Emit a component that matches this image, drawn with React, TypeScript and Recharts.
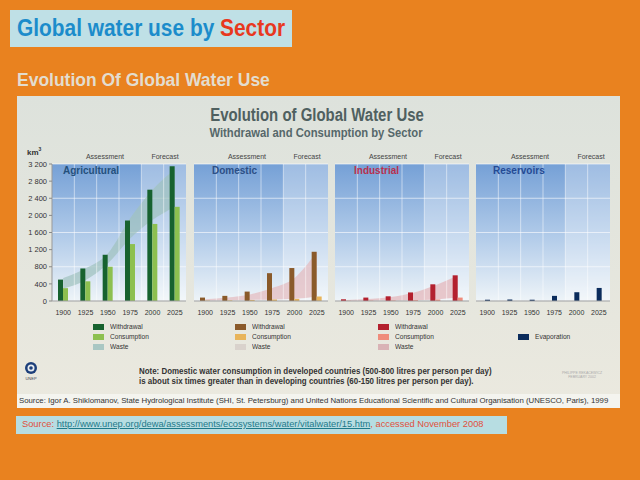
import {
  ComposedChart,
  Bar,
  Area,
  XAxis,
  YAxis,
  CartesianGrid,
  ReferenceArea,
  ReferenceLine,
} from "recharts";

// values, km3 per year
const years = ["1900", "1925", "1950", "1975", "2000", "2025"];
const yTicks = [0, 400, 800, 1200, 1600, 2000, 2400, 2800, 3200];

const agriWithdrawal = [500, 760, 1080, 1880, 2600, 3150];
const agriConsumption = [300, 460, 800, 1330, 1800, 2200];
const agriWasteTop = [540, 760, 1110, 1930, 2600, 3070];
const agriWasteBottom = [290, 485, 875, 1460, 1890, 2200];

const domWithdrawal = [80, 120, 220, 650, 770, 1150];
const domConsumption = [10, 15, 25, 35, 50, 105];
const domWasteTop = [40, 80, 150, 305, 540, 1150];

const indWithdrawal = [40, 80, 110, 200, 390, 600];
const indConsumption = [5, 8, 12, 20, 35, 80];
const indWasteTop = [25, 45, 95, 195, 370, 595];

const resEvaporation = [30, 35, 30, 120, 205, 305];

const agriData = years.map((year, i) => ({
  year,
  w: agriWithdrawal[i],
  c: agriConsumption[i],
  band: [agriWasteBottom[i], agriWasteTop[i]],
}));
const domData = years.map((year, i) => ({
  year,
  w: domWithdrawal[i],
  c: domConsumption[i],
  band: [domConsumption[i], domWasteTop[i]],
}));
const indData = years.map((year, i) => ({
  year,
  w: indWithdrawal[i],
  c: indConsumption[i],
  band: [indConsumption[i], indWasteTop[i]],
}));
const resData = years.map((year, i) => ({ year, w: resEvaporation[i] }));

const sans = "'Liberation Sans', Arial, sans-serif";

// "3 200" style, with a no-break space so the tick doesn't wrap
const fmtK = (n: number) =>
  n >= 1000 ? `${Math.floor(n / 1000)}\u00a0${String(n % 1000).padStart(3, "0")}` : String(n);

interface PanelProps {
  id: string;
  data: any[];
  left: number;
  width: number;
  showY?: boolean;
  wColor: string;
  cColor?: string;
  bandColor?: string;
}

function Panel(props: PanelProps) {
  const { id, data, left, width, showY, wColor, cColor, bandColor } = props;
  return (
    <div style={{ position: "absolute", left, top: 150 }}>
      <ComposedChart
        width={width}
        height={170}
        data={data}
        margin={{ top: 14, right: 0, bottom: 5, left: 0 }}
        barGap={0}
        barSize={5}
      >
        <defs>
          <linearGradient id={id} x1="0" y1="0" x2="0" y2="1">
            <stop offset="0" stopColor="#75a0d6" />
            <stop offset="0.55" stopColor="#b4cdea" />
            <stop offset="1" stopColor="#eef4f8" />
          </linearGradient>
        </defs>
        <CartesianGrid
          vertical={false}
          fill={`url(#${id})`}
          fillOpacity={1}
          stroke="#ffffff"
          strokeOpacity={0.6}
        />
        <ReferenceArea
          x1="2000"
          x2="2025"
          y1={0}
          y2={3200}
          fill="#ffffff"
          fillOpacity={0.3}
          stroke="none"
        />
        {years.slice(1).map((y) => (
          <ReferenceLine key={y} x={y} position="start" stroke="#ffffff" strokeOpacity={0.5} />
        ))}
        <XAxis
          dataKey="year"
          interval={0}
          height={14}
          tickLine={false}
          tickMargin={3}
          axisLine={{ stroke: "#9a9a9a" }}
          tick={{ fontSize: 7, fill: "#333", fontFamily: sans }}
        />
        <YAxis
          hide={!showY}
          width={36}
          domain={[0, 3200]}
          ticks={yTicks}
          tickFormatter={fmtK}
          tickSize={3}
          tickMargin={2}
          tickLine={{ stroke: "#888" }}
          axisLine={{ stroke: "#999" }}
          tick={{ fontSize: 7.5, fill: "#333", fontFamily: sans }}
        />
        {bandColor && (
          <Area
            dataKey="band"
            type="monotone"
            fill={bandColor}
            fillOpacity={0.7}
            stroke="none"
            isAnimationActive={false}
          />
        )}
        <Bar dataKey="w" fill={wColor} isAnimationActive={false} />
        {cColor && <Bar dataKey="c" fill={cColor} isAnimationActive={false} />}
      </ComposedChart>
    </div>
  );
}

const abs = (left: number, top: number, extra: any = {}) => ({
  position: "absolute" as const,
  left,
  top,
  whiteSpace: "nowrap" as const,
  lineHeight: 1,
  fontFamily: sans,
  ...extra,
});

const squeeze = (k: number) => ({ transform: `scaleX(${k})`, transformOrigin: "left center" });
const squeezeMid = (k: number) => ({ transform: `translateX(-50%) scaleX(${k})` });

function LegendRow({ x, y, color, label }: { x: number; y: number; color: string; label: string }) {
  return (
    <>
      <div style={abs(x, y - 3, { width: 11, height: 6, background: color })} />
      <div style={abs(x + 17, y - 4, { fontSize: 7.5, color: "#333", ...squeeze(0.88) })}>{label}</div>
    </>
  );
}

function PhaseLabels({ a, f }: { a: number; f: number }) {
  const st = { fontSize: 7, color: "#444", transform: "translateX(-50%)" };
  return (
    <>
      <div style={abs(a, 153, st)}>Assessment</div>
      <div style={abs(f, 153, st)}>Forecast</div>
    </>
  );
}

export default function App() {
  return (
    <div
      style={{
        position: "absolute",
        left: 0,
        top: 0,
        width: 640,
        height: 480,
        background: "#e9821f",
        overflow: "hidden",
      }}
    >
      <div style={abs(10, 10, { width: 282, height: 37, background: "#bfe0e6" })} />
      <div style={abs(17, 16, { fontSize: 24, fontWeight: "bold", color: "#1b8ccb", ...squeeze(0.87) })}>
        Global water use by <span style={{ color: "#e8381e" }}>Sector</span>
      </div>
      <div style={abs(17, 70, { fontSize: 19, fontWeight: "bold", color: "#e3ddcf", ...squeeze(0.92) })}>
        Evolution Of Global Water Use
      </div>

      <div
        style={abs(17, 96, {
          width: 603,
          height: 312,
          background: "linear-gradient(#dde2dc, #ebe9df)",
        })}
      />
      <div style={abs(317, 106, { fontSize: 18, fontWeight: "bold", color: "#4f6060", ...squeezeMid(0.83) })}>
        Evolution of Global Water Use
      </div>
      <div style={abs(316, 127, { fontSize: 12.5, fontWeight: "bold", color: "#56686a", ...squeezeMid(0.9) })}>
        Withdrawal and Consumption by Sector
      </div>

      <div style={abs(27, 147, { fontSize: 8, fontWeight: "bold", color: "#333" })}>
        km<sup style={{ fontSize: 5 }}>3</sup>
      </div>
      <PhaseLabels a={105} f={165} />
      <PhaseLabels a={247} f={307} />
      <PhaseLabels a={388} f={448} />
      <PhaseLabels a={530} f={591} />

      <Panel id="gAgri" data={agriData} left={16} width={170} showY wColor="#17622f" cColor="#8dc050" bandColor="#9fc2bd" />
      <Panel id="gDom" data={domData} left={194} width={134} wColor="#8a5a2a" cColor="#e8b45a" bandColor="#e4b9bd" />
      <Panel id="gInd" data={indData} left={335} width={134} wColor="#b3202e" cColor="#ef8c7c" bandColor="#e4b4b8" />
      <Panel id="gRes" data={resData} left={476} width={134} wColor="#0b2c5c" />

      <div style={abs(63, 166, { fontSize: 10, fontWeight: "bold", color: "#24507c" })}>Agricultural</div>
      <div style={abs(212, 166, { fontSize: 10, fontWeight: "bold", color: "#2c4f86" })}>Domestic</div>
      <div style={abs(354, 166, { fontSize: 10, fontWeight: "bold", color: "#b8304e" })}>Industrial</div>
      <div style={abs(493, 166, { fontSize: 10, fontWeight: "bold", color: "#244a94" })}>Reservoirs</div>

      <LegendRow x={93} y={327} color="#17622f" label="Withdrawal" />
      <LegendRow x={93} y={337} color="#8dc050" label="Consumption" />
      <LegendRow x={93} y={347} color="#a9c7c3" label="Waste" />
      <LegendRow x={235} y={327} color="#8a5a2a" label="Withdrawal" />
      <LegendRow x={235} y={337} color="#e8b45a" label="Consumption" />
      <LegendRow x={235} y={347} color="#d9d2cc" label="Waste" />
      <LegendRow x={378} y={327} color="#b3202e" label="Withdrawal" />
      <LegendRow x={378} y={337} color="#ef8c7c" label="Consumption" />
      <LegendRow x={378} y={347} color="#d9b3b6" label="Waste" />
      <LegendRow x={518} y={337} color="#0b2c5c" label="Evaporation" />

      <svg style={abs(22, 360)} width={20} height={22}>
        <circle cx={9} cy={8} r={6} fill="#1d3f7a" />
        <circle cx={9} cy={8} r={3.5} fill="#e8ecf0" />
        <circle cx={9} cy={8} r={1.8} fill="#1d3f7a" />
        <text x={9} y={20} fontSize={4} textAnchor="middle" fill="#445">UNEP</text>
      </svg>

      <div style={abs(139, 367, { fontSize: 9, fontWeight: "bold", color: "#333", ...squeeze(0.88) })}>
        Note:<span style={{ fontWeight: 600 }}> Domestic water consumption in developed countries (500-800 litres per person per day)</span>
      </div>
      <div style={abs(139, 377, { fontSize: 9, fontWeight: "bold", color: "#333", ...squeeze(0.88) })}>
        is about six times greater than in developing countries (60-150 litres per person per day).
      </div>
      <div style={abs(562, 372, { fontSize: 3.5, color: "#aaa", textAlign: "center" })}>
        PHILIPPE REKACEWICZ
        <br />
        FEBRUARY 2002
      </div>

      <div style={abs(17, 394, { width: 603, height: 14, background: "#f4f4ef" })} />
      <div style={abs(19, 397, { fontSize: 7.8, color: "#333" })}>
        Source: Igor A. Shiklomanov, State Hydrological Institute (SHI, St. Petersburg) and United Nations
        Educational Scientific and Cultural Organisation (UNESCO, Paris), 1999
      </div>

      <div style={abs(16, 416, { width: 491, height: 18, background: "#b7dde2" })} />
      <div style={abs(22, 420, { fontSize: 9.3, color: "#e0503c" })}>
        Source:{" "}
        <span style={{ color: "#1e7a8a", textDecoration: "underline" }}>
          http://www.unep.org/dewa/assessments/ecosystems/water/vitalwater/15.htm
        </span>
        , accessed November 2008
      </div>
    </div>
  );
}
